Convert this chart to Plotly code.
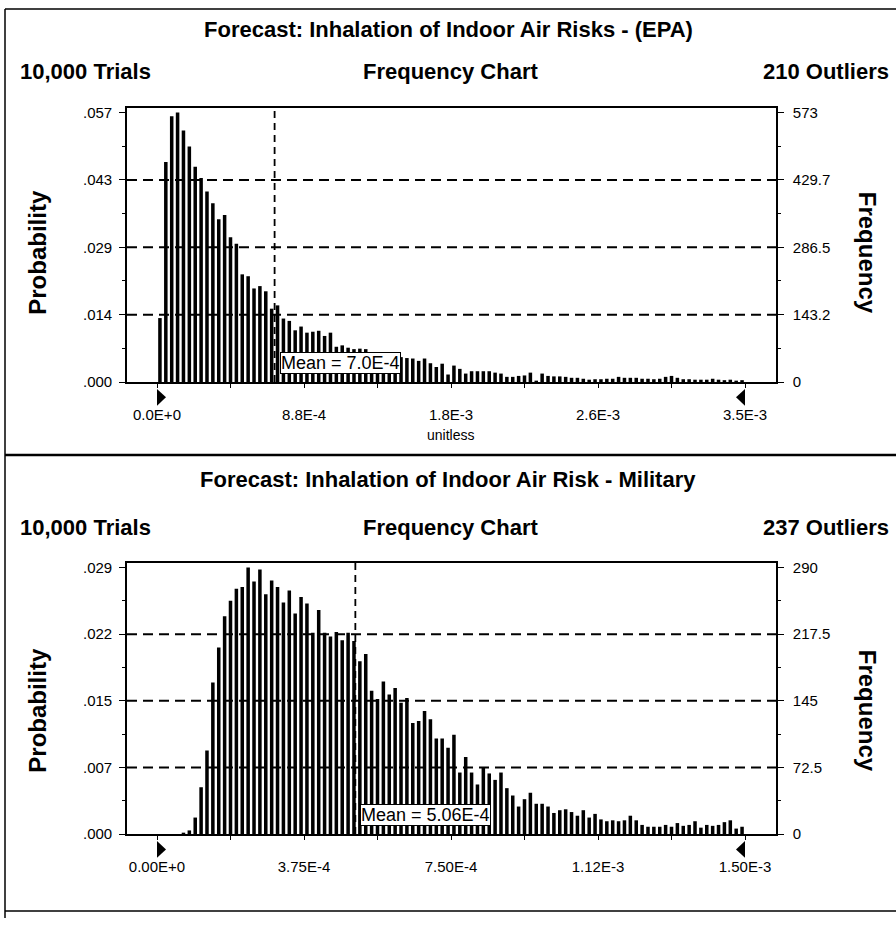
import plotly.graph_objects as go

# ---------------- data ----------------
epa_title = "Forecast: Inhalation of Indoor Air Risks - (EPA)"
epa_trials = "10,000 Trials"
epa_chart = "Frequency Chart"
epa_outliers = "210 Outliers"
epa_bin_width = 3.5e-5
epa_counts = [136, 468, 565, 573, 535, 501, 458, 434, 405, 380,
              346, 355, 308, 294, 229, 225, 199, 204, 193, 156,
              163, 135, 130, 110, 118, 105, 107, 109, 98, 105,
              75, 78, 73, 70, 71, 70, 62, 60, 58, 56,
              55, 53, 51, 50, 45, 50, 40, 32, 39, 16,
              35, 28, 18, 23, 23, 23, 23, 20, 18, 11,
              11, 13, 14, 20, 2, 18, 13, 12, 12, 11,
              9, 9, 7, 5, 6, 6, 7, 7, 11, 9,
              9, 9, 7, 7, 6, 7, 11, 13, 9, 6,
              6, 5, 5, 5, 7, 5, 4, 5, 2, 4]
epa_mean = 7.0e-4
epa_mean_label = "Mean = 7.0E-4"
epa_freq_tickvals = [0, 143.25, 286.5, 429.75, 573]
epa_freq_ticktext = ["0", "143.2", "286.5", "429.7", "573"]
epa_prob_ticktext = [".000", ".014", ".029", ".043", ".057"]
epa_x_tickvals = [0, 8.75e-4, 1.75e-3, 2.625e-3, 3.5e-3]
epa_x_ticktext = ["0.0E+0", "8.8E-4", "1.8E-3", "2.6E-3", "3.5E-3"]
epa_unit = "unitless"

mil_title = "Forecast: Inhalation of Indoor Air Risk - Military"
mil_trials = "10,000 Trials"
mil_chart = "Frequency Chart"
mil_outliers = "237 Outliers"
mil_bin_width = 1.5e-5
mil_counts = [0, 0, 0, 0, 1, 4, 18, 51, 91, 165,
              203, 237, 254, 267, 269, 290, 275, 288, 261, 276,
              269, 252, 265, 240, 258, 251, 219, 244, 219, 215,
              220, 211, 219, 210, 188, 196, 156, 147, 166, 152,
              159, 143, 148, 121, 123, 134, 125, 104, 104, 94,
              108, 67, 84, 67, 54, 72, 66, 59, 67, 50,
              42, 30, 38, 45, 33, 33, 30, 23, 26, 27,
              24, 20, 26, 18, 22, 16, 14, 15, 14, 15,
              20, 15, 10, 8, 8, 8, 10, 8, 12, 9,
              10, 14, 7, 10, 9, 10, 13, 15, 6, 8]
mil_mean = 5.06e-4
mil_mean_label = "Mean = 5.06E-4"
mil_freq_tickvals = [0, 72.5, 145, 217.5, 290]
mil_freq_ticktext = ["0", "72.5", "145", "217.5", "290"]
mil_prob_ticktext = [".000", ".007", ".015", ".022", ".029"]
mil_x_tickvals = [0, 3.75e-4, 7.5e-4, 1.125e-3, 1.5e-3]
mil_x_ticktext = ["0.00E+0", "3.75E-4", "7.50E-4", "1.12E-3", "1.50E-3"]

prob_label = "Probability"
freq_label = "Frequency"

# ---------------- layout geometry (pixels) ----------------
W, H = 896, 926
FONT = "Liberation Sans, Arial, sans-serif"
FRAME_L, FRAME_R = 127, 776
DATA_L, DATA_R = 157, 745


def px(x):
    return x / W


def py(y):
    return 1 - y / H


fig = go.Figure()
shapes = []
annotations = []


def panel(idx, counts, bw, mean, mean_label, fvals, ftext, ptext, xvals, xtext,
          frame_top, base, maxtick_px, title, trials, chart, outliers,
          title_y, row_y, side_y, unit=None):
    xa = "x" if idx == 0 else "x2"
    ya_l = "y" if idx == 0 else "y3"
    ya_r = "y2" if idx == 0 else "y4"
    xkey = "xaxis" if idx == 0 else "xaxis2"
    ykl = "yaxis" if idx == 0 else "yaxis3"
    ykr = "yaxis2" if idx == 0 else "yaxis4"

    xmax = xvals[-1]
    span = DATA_R - DATA_L
    xlo = -(DATA_L - FRAME_L) / span * xmax
    xhi = (FRAME_R - DATA_L) / span * xmax
    ytop = fvals[-1] * (base - frame_top) / (base - maxtick_px)

    centers = [(i + 0.5) * bw for i in range(len(counts))]
    fig.add_trace(go.Bar(x=centers, y=counts, width=0.6 * bw,
                         marker=dict(color="black", line=dict(width=0)),
                         xaxis=xa, yaxis=ya_l, hoverinfo="skip"))
    fig.add_trace(go.Scatter(x=[centers[0]], y=[counts[0]], xaxis=xa, yaxis=ya_r,
                             mode="markers", marker=dict(opacity=0),
                             hoverinfo="skip"))

    mids = [(fvals[i] + fvals[i + 1]) / 2 for i in range(len(fvals) - 1)]
    xmids = [(xvals[i] + xvals[i + 1]) / 2 for i in range(len(xvals) - 1)]
    dom_y = [py(base), py(frame_top)]
    tickfont = dict(family=FONT, size=15, color="black")
    common_y = dict(range=[0, ytop], domain=dom_y, tickvals=fvals,
                    ticks="outside", ticklen=6, tickwidth=1.2, tickcolor="black",
                    showgrid=False, zeroline=False, showline=True,
                    linecolor="black", linewidth=1.6, tickfont=tickfont,
                    fixedrange=True,
                    minor=dict(tickvals=mids, ticks="outside", ticklen=3,
                               tickwidth=1, tickcolor="black", showgrid=False))
    fig.layout[ykl] = dict(common_y, anchor=xa, side="left", ticktext=ptext,
                           ticklabelstandoff=4)
    fig.layout[ykr] = dict(common_y, anchor=xa, side="right", overlaying=ya_l,
                           ticktext=ftext, ticklabelstandoff=6)
    fig.layout[xkey] = dict(domain=[px(FRAME_L), px(FRAME_R)], anchor=ya_l,
                            range=[xlo, xhi], tickvals=xvals, ticktext=xtext,
                            ticks="outside", ticklen=4, tickwidth=1.2,
                            tickcolor="black", showline=True, mirror=True,
                            linecolor="black", linewidth=1.6, showgrid=False,
                            zeroline=False, tickfont=tickfont,
                            ticklabelstandoff=14, fixedrange=True,
                            minor=dict(tickvals=xmids, ticks="outside",
                                       ticklen=4, tickwidth=1.2,
                                       tickcolor="black", showgrid=False))

    # dashed horizontal grid lines at inner ticks
    for v in fvals[1:-1]:
        shapes.append(dict(type="line", xref=xa + " domain", x0=0, x1=1,
                           yref=ya_l, y0=v, y1=v, layer="above",
                           line=dict(color="black", width=2, dash="10px,6px")))
    # mean line
    shapes.append(dict(type="line", xref=xa, x0=mean, x1=mean,
                       yref=ya_l + " domain", y0=0, y1=1, layer="above",
                       line=dict(color="black", width=1.8, dash="7px,5px")))
    # certainty grabbers (triangles)
    hdom = base - frame_top
    ya_, yb_, ym_ = -7 / hdom, -24 / hdom, -15.5 / hdom
    dx = 9 / span * xmax
    shapes.append(dict(type="path", xref=xa, yref=ya_l + " domain",
                       path=f"M 0,{ya_} L 0,{yb_} L {dx},{ym_} Z",
                       fillcolor="black", line=dict(width=0)))
    shapes.append(dict(type="path", xref=xa, yref=ya_l + " domain",
                       path=f"M {xmax},{ya_} L {xmax},{yb_} L {xmax - dx},{ym_} Z",
                       fillcolor="black", line=dict(width=0)))
    # mean label
    annotations.append(dict(text=mean_label, x=mean, xref=xa, y=0, yref=ya_l,
                            xanchor="left", yanchor="bottom", xshift=5, yshift=8,
                            showarrow=False, bgcolor="white", bordercolor="black",
                            borderwidth=1, borderpad=0,
                            font=dict(family=FONT, size=18, color="black")))
    bold = dict(family=FONT, size=22, color="black", weight="bold")
    annotations.append(dict(text=title, x=px(448), y=py(title_y), xref="paper",
                            yref="paper", xanchor="center", yanchor="middle",
                            showarrow=False, font=bold))
    annotations.append(dict(text=trials, x=px(18), y=py(row_y), xref="paper",
                            yref="paper", xanchor="left", yanchor="middle",
                            showarrow=False, font=bold))
    annotations.append(dict(text=chart, x=px(450), y=py(row_y), xref="paper",
                            yref="paper", xanchor="center", yanchor="middle",
                            showarrow=False, font=bold))
    annotations.append(dict(text=outliers, x=px(891), y=py(row_y), xref="paper",
                            yref="paper", xanchor="right", yanchor="middle",
                            showarrow=False, font=bold))
    big = dict(family=FONT, size=24, color="black", weight="bold")
    annotations.append(dict(text=prob_label, x=px(38), y=py(side_y), xref="paper",
                            yref="paper", xanchor="center", yanchor="middle",
                            textangle=-90, showarrow=False, font=big))
    annotations.append(dict(text=freq_label, x=px(867), y=py(side_y),
                            xref="paper", yref="paper", xanchor="center",
                            yanchor="middle", textangle=90, showarrow=False,
                            font=big))
    if unit:
        annotations.append(dict(text=unit, x=px(450), y=py(437), xref="paper",
                                yref="paper", xanchor="center", yanchor="middle",
                                showarrow=False,
                                font=dict(family=FONT, size=14, color="black")))


panel(0, epa_counts, epa_bin_width, epa_mean, epa_mean_label, epa_freq_tickvals,
      epa_freq_ticktext, epa_prob_ticktext, epa_x_tickvals, epa_x_ticktext,
      frame_top=105, base=383, maxtick_px=110, title=epa_title,
      trials=epa_trials, chart=epa_chart, outliers=epa_outliers,
      title_y=26, row_y=68, side_y=252, unit=epa_unit)
panel(1, mil_counts, mil_bin_width, mil_mean, mil_mean_label, mil_freq_tickvals,
      mil_freq_ticktext, mil_prob_ticktext, mil_x_tickvals, mil_x_ticktext,
      frame_top=566, base=841, maxtick_px=571, title=mil_title,
      trials=mil_trials, chart=mil_chart, outliers=mil_outliers,
      title_y=482, row_y=530, side_y=716)

# panel borders
border = dict(color="black", width=1.5)
shapes += [
    dict(type="line", xref="paper", yref="paper", x0=px(5), x1=px(5),
         y0=py(5), y1=py(926), line=border),
    dict(type="line", xref="paper", yref="paper", x0=px(5), x1=1,
         y0=py(5), y1=py(5), line=border),
    dict(type="line", xref="paper", yref="paper", x0=px(5), x1=1,
         y0=py(457), y1=py(457), line=dict(color="black", width=2.5)),
    dict(type="line", xref="paper", yref="paper", x0=px(5), x1=1,
         y0=py(919), y1=py(919), line=border),
]

fig.update_layout(width=W, height=H, margin=dict(l=0, r=0, t=0, b=0),
                  paper_bgcolor="white", plot_bgcolor="white",
                  showlegend=False, barmode="overlay",
                  shapes=shapes, annotations=annotations,
                  font=dict(family=FONT, color="black"))

fig.write_html("out.html")
